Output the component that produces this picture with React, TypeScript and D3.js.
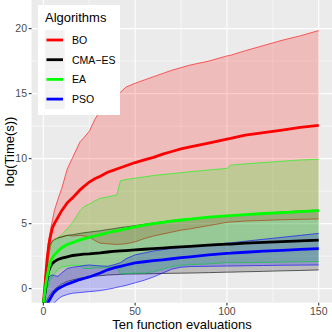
import React from "react";
import * as d3 from "d3";

// evaluation steps (x) shared by all series
const evals = [0, 1, 2, 3, 4, 5, 6, 8, 10, 13, 16, 20, 22, 25, 28, 31, 35, 38, 40, 42, 45, 50, 55, 60, 65, 70, 75, 80, 90, 100, 102, 110, 120, 130, 140, 150];

const boMean = [-1.2, 0.5, 2.2, 3.4, 4.1, 4.7, 5.0, 5.5, 6.0, 6.6, 7.0, 7.6, 7.85, 8.2, 8.45, 8.65, 8.95, 9.1, 9.2, 9.3, 9.45, 9.7, 9.9, 10.1, 10.35, 10.55, 10.75, 10.9, 11.2, 11.5, 11.55, 11.8, 12.0, 12.2, 12.4, 12.55];
const boHi = [-1.2, 0.8, 2.5, 3.8, 4.6, 5.3, 6.0, 6.9, 7.7, 9.2, 10.1, 11.3, 11.6, 12.1, 13.0, 13.7, 14.2, 14.6, 14.9, 15.1, 15.5, 15.8, 16.05, 16.3, 16.55, 16.8, 17.0, 17.2, 17.5, 17.9, 17.95, 18.3, 18.7, 19.1, 19.45, 19.85];
const boLo = [-1.2, 0.0, 1.5, 2.6, 3.3, 3.7, 3.8, 3.9, 3.95, 4.1, 4.05, 4.1, 4.05, 4.0, 3.7, 3.5, 3.45, 3.42, 3.4, 3.42, 3.45, 3.6, 3.85, 4.05, 4.2, 4.35, 4.5, 4.6, 4.85, 5.1, 5.12, 5.2, 5.25, 5.3, 5.33, 5.36];

const cmaMean = [-1.2, -0.2, 0.8, 1.4, 1.75, 1.95, 2.08, 2.25, 2.35, 2.45, 2.55, 2.62, 2.65, 2.68, 2.72, 2.75, 2.82, 2.86, 2.88, 2.9, 2.93, 2.98, 3.03, 3.08, 3.12, 3.17, 3.21, 3.25, 3.35, 3.42, 3.43, 3.5, 3.56, 3.62, 3.68, 3.73];
const cmaHi = [-1.2, 0.5, 2.3, 3.2, 3.5, 3.65, 3.75, 3.9, 4.0, 4.1, 4.15, 4.25, 4.3, 4.35, 4.4, 4.45, 4.55, 4.6, 4.65, 4.7, 4.75, 4.85, 4.95, 5.05, 5.15, 5.25, 5.3, 5.35, 5.5, 5.6, 5.62, 5.7, 5.8, 5.9, 5.98, 6.05];
const cmaLo = [-1.2, -1.1, -0.9, -0.6, -0.4, -0.2, -0.05, 0.15, 0.35, 0.55, 0.67, 0.8, 0.85, 0.9, 0.95, 1.0, 1.05, 1.07, 1.08, 1.1, 1.12, 1.13, 1.14, 1.15, 1.17, 1.18, 1.19, 1.2, 1.23, 1.27, 1.27, 1.3, 1.33, 1.37, 1.4, 1.44];

const eaMean = [-1.2, 0.0, 0.9, 1.6, 2.1, 2.4, 2.6, 2.9, 3.15, 3.4, 3.55, 3.75, 3.83, 3.95, 4.05, 4.15, 4.3, 4.4, 4.45, 4.5, 4.6, 4.75, 4.88, 5.0, 5.1, 5.2, 5.28, 5.35, 5.5, 5.6, 5.62, 5.7, 5.78, 5.85, 5.93, 6.0];
const eaHi = [-1.2, 0.8, 2.2, 3.0, 3.4, 3.6, 3.75, 3.95, 4.15, 4.6, 5.1, 6.0, 6.3, 6.5, 6.75, 6.95, 7.05, 7.15, 7.2, 8.3, 8.4, 8.5, 8.6, 8.7, 8.78, 8.85, 8.92, 9.0, 9.13, 9.25, 9.5, 9.6, 9.7, 9.8, 9.9, 9.95];
const eaLo = [-1.2, -0.6, 0.0, 0.4, 0.7, 0.9, 1.1, 1.5, 1.65, 1.75, 1.8, 1.8, 1.55, 1.55, 1.6, 1.6, 1.65, 1.6, 1.6, 1.15, 1.15, 1.2, 1.2, 1.3, 1.5, 1.7, 1.8, 1.85, 1.9, 2.0, 2.0, 2.0, 2.02, 2.05, 2.07, 2.08];

const psoMean = [-1.5, -1.4, -1.2, -0.95, -0.7, -0.45, -0.25, 0.0, 0.15, 0.35, 0.5, 0.7, 0.78, 0.9, 1.05, 1.2, 1.45, 1.58, 1.65, 1.72, 1.82, 1.98, 2.07, 2.15, 2.22, 2.3, 2.38, 2.45, 2.6, 2.72, 2.73, 2.8, 2.88, 2.95, 3.02, 3.08];
const psoHi = [-1.2, -0.5, 0.3, 0.9, 1.0, 1.05, 1.0, 0.95, 1.2, 1.55, 1.65, 1.72, 1.78, 1.82, 1.78, 1.75, 1.72, 1.82, 1.9, 2.0, 2.3, 2.6, 2.75, 2.9, 3.0, 3.1, 3.18, 3.25, 3.38, 3.5, 3.52, 3.65, 3.8, 3.95, 4.1, 4.25];
const psoLo = [-1.5, -1.5, -1.5, -1.45, -1.4, -1.25, -1.1, -0.8, -0.6, -0.45, -0.35, -0.3, -0.27, -0.23, -0.19, -0.15, -0.05, 0.03, 0.1, 0.16, 0.25, 0.45, 0.65, 0.9, 1.2, 1.5, 1.65, 1.7, 1.72, 1.74, 1.74, 1.76, 1.78, 1.8, 1.81, 1.82];

const algorithms = ["BO", "CMA\u2212ES", "EA", "PSO"];
const colors = ["#ff0000", "#000000", "#00ff00", "#0000ff"];
const means = [boMean, cmaMean, eaMean, psoMean];
const highs = [boHi, cmaHi, eaHi, psoHi];
const lows = [boLo, cmaLo, eaLo, psoLo];

const xTicks = [0, 50, 100, 150];
const xMinor = [25, 75, 125];
const yTicks = [0, 5, 10, 15, 20];
const yMinor = [2.5, 7.5, 12.5, 17.5];

const W = 332;
const H = 332;
const panel = { left: 31.5, right: 332.4, top: 0, bottom: 302.7 };
const font = "'Liberation Sans', Arial, sans-serif";

export default function App() {
  const x = d3.scaleLinear().domain([-6.45, 157.45]).range([panel.left, panel.right]);
  const y = d3.scaleLinear().domain([-1.08, 22.2]).range([panel.bottom, panel.top]);

  const ribbon = (lo: number[], hi: number[]) =>
    d3
      .area<number>()
      .x((_, i) => x(evals[i]))
      .y0((_, i) => y(lo[i]))
      .y1((_, i) => y(hi[i]))(evals) as string;

  const line = (vals: number[]) =>
    d3
      .line<number>()
      .x((_, i) => x(evals[i]))
      .y((_, i) => y(vals[i]))(evals) as string;

  return (
    <svg
      width={W}
      height={H}
      style={{ position: "absolute", left: 0, top: 0, background: "#fff" }}
      fontFamily={font}
    >
      <defs>
        <clipPath id="panel">
          <rect x={panel.left} y={panel.top} width={panel.right - panel.left} height={panel.bottom - panel.top} />
        </clipPath>
      </defs>
      <rect x={panel.left} y={panel.top} width={panel.right - panel.left} height={panel.bottom - panel.top} fill="#ebebeb" />
      {/* grid */}
      {xMinor.map((t) => (
        <line key={"xm" + t} x1={x(t)} x2={x(t)} y1={panel.top} y2={panel.bottom} stroke="#fff" strokeWidth={0.55} />
      ))}
      {yMinor.map((t) => (
        <line key={"ym" + t} x1={panel.left} x2={panel.right} y1={y(t)} y2={y(t)} stroke="#fff" strokeWidth={0.55} />
      ))}
      {xTicks.map((t) => (
        <line key={"xM" + t} x1={x(t)} x2={x(t)} y1={panel.top} y2={panel.bottom} stroke="#fff" strokeWidth={1.1} />
      ))}
      {yTicks.map((t) => (
        <line key={"yM" + t} x1={panel.left} x2={panel.right} y1={y(t)} y2={y(t)} stroke="#fff" strokeWidth={1.1} />
      ))}

      <g clipPath="url(#panel)">
        {algorithms.map((a, k) => (
          <g key={"rb" + a}>
            <path d={ribbon(lows[k], highs[k])} fill={colors[k]} fillOpacity={0.2} stroke="none" />
            <path d={line(highs[k])} fill="none" stroke={colors[k]} strokeWidth={0.6} />
            <path d={line(lows[k])} fill="none" stroke={colors[k]} strokeWidth={0.6} />
          </g>
        ))}
        {algorithms.map((a, k) => (
          <path key={"mn" + a} d={line(means[k])} fill="none" stroke={colors[k]} strokeWidth={2.8} />
        ))}
      </g>

      {/* axes */}
      {xTicks.map((t) => (
        <g key={"xt" + t}>
          <line x1={x(t)} x2={x(t)} y1={panel.bottom} y2={panel.bottom + 2.7} stroke="#333" strokeWidth={1.1} />
          <text x={x(t)} y={panel.bottom + 11.8} textAnchor="middle" fontSize={10.5} fill="#4d4d4d">
            {t}
          </text>
        </g>
      ))}
      {yTicks.map((t) => (
        <g key={"yt" + t}>
          <line x1={panel.left - 2.7} x2={panel.left} y1={y(t)} y2={y(t)} stroke="#333" strokeWidth={1.1} />
          <text x={panel.left - 4.5} y={y(t) + 3.7} textAnchor="end" fontSize={10.5} fill="#4d4d4d">
            {t}
          </text>
        </g>
      ))}
      <text x={(panel.left + panel.right) / 2} y={329.3} textAnchor="middle" fontSize={13} fill="#000">
        Ten function evaluations
      </text>
      <text
        transform={`translate(14,${(panel.top + panel.bottom) / 2}) rotate(-90)`}
        textAnchor="middle"
        fontSize={13}
        fill="#000"
      >
        log(Time(s))
      </text>

      {/* legend */}
      <g>
        <rect x={38} y={5} width={82} height={110} fill="#fff" />
        <text x={45} y={22} fontSize={13} fill="#000">
          Algorithms
        </text>
        {algorithms.map((a, k) => {
          const cy = 40 + k * 19.7;
          return (
            <g key={"lg" + a}>
              <rect x={45} y={cy - 9.85} width={19.7} height={19.7} fill="#f2f2f2" />
              <line x1={46.5} x2={63} y1={cy} y2={cy} stroke={colors[k]} strokeWidth={2.8} />
              <text x={72} y={cy + 3.8} fontSize={10.5} fill="#000">
                {a}
              </text>
            </g>
          );
        })}
      </g>
    </svg>
  );
}
